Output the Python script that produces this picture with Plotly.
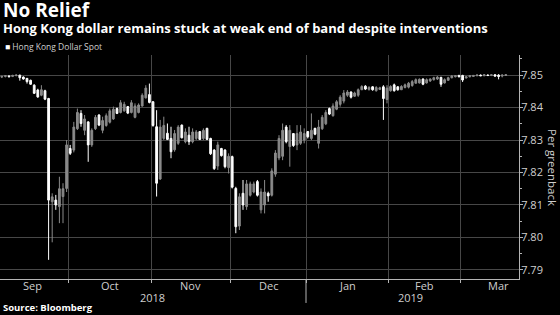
import pandas as pd
import plotly.graph_objects as go

# ---- data (USD/HKD daily candles) ----
start_date = "2018-09-04"
n_days = 141
dates = (pd.bdate_range(start_date, periods=n_days) + pd.Timedelta(hours=12)).tolist()

open_ = [7.8494, 7.8496, 7.8497, 7.8496, 7.8499, 7.8500, 7.8494, 7.8490, 7.8484, 7.8469,
         7.8454, 7.8438, 7.8452, 7.8428, 7.8110, 7.8115, 7.8095, 7.8126, 7.8151, 7.8274,
         7.8269, 7.8335, 7.8382, 7.8330, 7.8356, 7.8285, 7.8335, 7.8377, 7.8330, 7.8345,
         7.8355, 7.8365, 7.8397, 7.8385, 7.8390, 7.8403, 7.8385, 7.8370, 7.8385, 7.8405,
         7.8430, 7.8440, 7.8418, 7.8341, 7.8180, 7.8305, 7.8321, 7.8305, 7.8270, 7.8290,
         7.8346, 7.8295, 7.8315, 7.8295, 7.8305, 7.8326, 7.8305, 7.8336, 7.8305, 7.8269,
         7.8220, 7.8274, 7.8269, 7.8215, 7.8249, 7.8151, 7.8035, 7.8136, 7.8095, 7.8130,
         7.8140, 7.8172, 7.8085, 7.8100, 7.8136, 7.8130, 7.8195, 7.8245, 7.8250, 7.8340,
         7.8280, 7.8320, 7.8285, 7.8290, 7.8300, 7.8326, 7.8305, 7.8336, 7.8290, 7.8335,
         7.8350, 7.8397, 7.8375, 7.8395, 7.8410, 7.8420, 7.8438, 7.8448, 7.8435, 7.8438,
         7.8455, 7.8466, 7.8456, 7.8464, 7.8452, 7.8456, 7.8464, 7.8425, 7.8452, 7.8470,
         7.8464, 7.8455, 7.8462, 7.8463, 7.8468, 7.8475, 7.8476, 7.8488, 7.8476, 7.8482,
         7.8486, 7.8488, 7.8493, 7.8476, 7.8484, 7.8492, 7.8495, 7.8499, 7.8499, 7.8491,
         7.8495, 7.8496, 7.8498, 7.8500, 7.8498, 7.8500, 7.8499, 7.8501, 7.8500, 7.8497,
         7.8499]
high_ = [7.8498, 7.8500, 7.8500, 7.8501, 7.8502, 7.8501, 7.8496, 7.8491, 7.8486, 7.8472,
         7.8458, 7.8469, 7.8455, 7.8430, 7.8136, 7.8131, 7.8187, 7.8167, 7.8300, 7.8285,
         7.8356, 7.8397, 7.8392, 7.8377, 7.8358, 7.8336, 7.8377, 7.8380, 7.8372, 7.8382,
         7.8397, 7.8403, 7.8400, 7.8423, 7.8418, 7.8405, 7.8423, 7.8413, 7.8413, 7.8444,
         7.8469, 7.8474, 7.8420, 7.8392, 7.8362, 7.8372, 7.8351, 7.8341, 7.8331, 7.8346,
         7.8348, 7.8336, 7.8341, 7.8336, 7.8331, 7.8328, 7.8336, 7.8338, 7.8307, 7.8272,
         7.8295, 7.8276, 7.8272, 7.8259, 7.8252, 7.8156, 7.8136, 7.8177, 7.8177, 7.8172,
         7.8172, 7.8177, 7.8151, 7.8177, 7.8141, 7.8213, 7.8269, 7.8315, 7.8351, 7.8346,
         7.8346, 7.8321, 7.8346, 7.8346, 7.8336, 7.8328, 7.8382, 7.8338, 7.8362, 7.8377,
         7.8392, 7.8400, 7.8413, 7.8423, 7.8438, 7.8454, 7.8454, 7.8450, 7.8449, 7.8459,
         7.8469, 7.8469, 7.8466, 7.8466, 7.8466, 7.8464, 7.8469, 7.8469, 7.8469, 7.8474,
         7.8466, 7.8469, 7.8474, 7.8479, 7.8485, 7.8490, 7.8490, 7.8490, 7.8490, 7.8490,
         7.8495, 7.8497, 7.8495, 7.8490, 7.8495, 7.8500, 7.8500, 7.8501, 7.8501, 7.8497,
         7.8500, 7.8500, 7.8502, 7.8502, 7.8502, 7.8502, 7.8502, 7.8503, 7.8503, 7.8502,
         7.8502]
low_ = [7.8491, 7.8493, 7.8494, 7.8494, 7.8496, 7.8483, 7.8486, 7.8474, 7.8470, 7.8442,
        7.8430, 7.8435, 7.8423, 7.7931, 7.7985, 7.8085, 7.8044, 7.8044, 7.8140, 7.8254,
        7.8262, 7.8331, 7.8341, 7.8315, 7.8233, 7.8279, 7.8331, 7.8343, 7.8321, 7.8341,
        7.8351, 7.8362, 7.8380, 7.8382, 7.8387, 7.8380, 7.8382, 7.8367, 7.8382, 7.8403,
        7.8428, 7.8413, 7.8341, 7.8126, 7.8177, 7.8300, 7.8300, 7.8244, 7.8264, 7.8285,
        7.8305, 7.8290, 7.8285, 7.8290, 7.8300, 7.8300, 7.8300, 7.8300, 7.8254, 7.8208,
        7.8208, 7.8249, 7.8213, 7.8197, 7.8151, 7.8013, 7.8023, 7.8085, 7.8085, 7.8126,
        7.8136, 7.8126, 7.8074, 7.8074, 7.8110, 7.8126, 7.8187, 7.8238, 7.8238, 7.8290,
        7.8218, 7.8279, 7.8269, 7.8285, 7.8290, 7.8305, 7.8300, 7.8315, 7.8274, 7.8331,
        7.8346, 7.8377, 7.8372, 7.8392, 7.8403, 7.8413, 7.8433, 7.8428, 7.8433, 7.8433,
        7.8454, 7.8454, 7.8452, 7.8452, 7.8449, 7.8454, 7.8362, 7.8413, 7.8449, 7.8449,
        7.8452, 7.8454, 7.8459, 7.8459, 7.8464, 7.8474, 7.8474, 7.8469, 7.8474, 7.8479,
        7.8483, 7.8485, 7.8464, 7.8474, 7.8483, 7.8490, 7.8493, 7.8493, 7.8479, 7.8490,
        7.8493, 7.8495, 7.8497, 7.8497, 7.8497, 7.8497, 7.8497, 7.8495, 7.8487, 7.8493,
        7.8498]
close_ = [7.8496, 7.8498, 7.8495, 7.8499, 7.8500, 7.8492, 7.8488, 7.8480, 7.8472, 7.8444,
          7.8433, 7.8455, 7.8426, 7.8115, 7.8125, 7.8100, 7.8150, 7.8150, 7.8285, 7.8259,
          7.8340, 7.8385, 7.8351, 7.8365, 7.8285, 7.8330, 7.8370, 7.8346, 7.8360, 7.8375,
          7.8390, 7.8395, 7.8382, 7.8415, 7.8410, 7.8383, 7.8415, 7.8405, 7.8408, 7.8438,
          7.8460, 7.8416, 7.8345, 7.8167, 7.8340, 7.8345, 7.8302, 7.8264, 7.8320, 7.8340,
          7.8307, 7.8325, 7.8295, 7.8325, 7.8325, 7.8302, 7.8330, 7.8302, 7.8258, 7.8212,
          7.8285, 7.8252, 7.8218, 7.8250, 7.8155, 7.8033, 7.8125, 7.8100, 7.8165, 7.8165,
          7.8165, 7.8130, 7.8140, 7.8140, 7.8128, 7.8205, 7.8260, 7.8305, 7.8330, 7.8295,
          7.8330, 7.8283, 7.8320, 7.8325, 7.8320, 7.8310, 7.8330, 7.8318, 7.8340, 7.8370,
          7.8385, 7.8380, 7.8405, 7.8418, 7.8432, 7.8445, 7.8448, 7.8432, 7.8445, 7.8455,
          7.8465, 7.8457, 7.8462, 7.8455, 7.8462, 7.8461, 7.8428, 7.8460, 7.8465, 7.8452,
          7.8455, 7.8465, 7.8470, 7.8475, 7.8480, 7.8486, 7.8487, 7.8472, 7.8486, 7.8488,
          7.8492, 7.8494, 7.8472, 7.8486, 7.8492, 7.8497, 7.8498, 7.8495, 7.8485, 7.8495,
          7.8498, 7.8499, 7.8500, 7.8498, 7.8501, 7.8499, 7.8501, 7.8497, 7.8496, 7.8500,
          7.8501]

months = ["2018-09", "2018-10", "2018-11", "2018-12", "2019-01", "2019-02", "2019-03"]
month_labels = ["Sep", "Oct", "Nov", "Dec", "Jan", "Feb", "Mar"]
y_ticks = [7.79, 7.80, 7.81, 7.82, 7.83, 7.84, 7.85]
year_labels = ["2018", "2019"]
year_label_dates = ["2018-11-01 06:00", "2019-02-11"]
year_boundary = "2019-01-01"

# month label positions (middle of each month's weekdays) and month boundaries
label_pos, boundaries = [], []
for m in months:
    p = pd.Period(m, "M")
    bd = pd.bdate_range(p.start_time, p.end_time)
    n = len(bd)
    label_pos.append(bd[n // 2] + pd.Timedelta(hours=12 * (n % 2)))
    boundaries.append(bd[0])
boundaries = boundaries[1:]

BG = "#000000"
GRID = "#474747"
AXIS = "#b4b4b4"
TXT = "#cfcfcf"
FONT = "Open Sans"

fig = go.Figure()
fig.add_trace(go.Candlestick(
    x=dates, open=open_, high=high_, low=low_, close=close_,
    increasing=dict(line=dict(color="#8a8a8a", width=1), fillcolor="#8a8a8a"),
    decreasing=dict(line=dict(color="#ffffff", width=1), fillcolor="#ffffff"),
    whiskerwidth=0, showlegend=False, name="Hong Kong Dollar Spot",
))

fig.update_layout(
    width=560, height=315,
    paper_bgcolor=BG, plot_bgcolor=BG,
    margin=dict(l=0, r=41, t=55, b=36),
    font=dict(family=FONT, color=TXT, size=11),
    showlegend=False,
)
fig.update_xaxes(
    type="date",
    range=["2018-09-04 00:00", "2019-03-25 04:00"],
    rangebreaks=[dict(bounds=["sat", "mon"])],
    rangeslider=dict(visible=False),
    tickmode="array", tickvals=boundaries, ticktext=[""] * len(boundaries),
    ticks="outside", ticklen=3, tickcolor=AXIS,
    showgrid=True, gridcolor=GRID, gridwidth=1,
    showline=True, linecolor=AXIS, linewidth=1,
    zeroline=False,
)
fig.update_yaxes(
    side="right",
    range=[7.7872, 7.8562],
    tickvals=y_ticks, tickformat=".2f",
    showgrid=True, gridcolor=GRID, gridwidth=1,
    ticks="outside", ticklen=3, tickcolor=AXIS,
    ticklabelstandoff=-4,
    minor=dict(dtick=0.005, tick0=7.785, ticks="outside", ticklen=2, tickcolor=AXIS, showgrid=False),
    showline=True, linecolor=AXIS, linewidth=1,
    tickfont=dict(size=11, color=TXT),
    zeroline=False,
)

ann = [
    dict(text="<b>No Relief</b>", x=0, xshift=1, y=1.201, xref="paper", yref="paper",
         xanchor="left", yanchor="middle", showarrow=False,
         font=dict(size=19, color="#ffffff", family=FONT)),
    dict(text="<b>Hong Kong dollar remains stuck at weak end of band despite interventions</b>",
         x=0, xshift=1, y=1.12, xref="paper", yref="paper",
         xanchor="left", yanchor="middle", showarrow=False,
         font=dict(size=13, color="#ffffff", family=FONT)),
    dict(text="<span style='color:#ffffff'>■</span> Hong Kong Dollar Spot",
         x=0, xshift=3, y=1.036, xref="paper", yref="paper",
         xanchor="left", yanchor="middle", showarrow=False,
         font=dict(size=8.5, color=TXT, family=FONT)),
    dict(text="<b>Source: Bloomberg</b>", x=0, xshift=1, y=-0.128, xref="paper", yref="paper",
         xanchor="left", yanchor="middle", showarrow=False,
         font=dict(size=9.5, color="#ffffff", family=FONT)),
    dict(text="Per greenback", x=1, xshift=34, y=0.5, xref="paper", yref="paper",
         xanchor="center", yanchor="middle", textangle=90, showarrow=False,
         font=dict(size=11.5, color=TXT, family=FONT)),
]
for lab, d in zip(month_labels, label_pos):
    ann.append(dict(text=lab, x=d, xref="x", y=-0.031, yref="paper",
                    xanchor="center", yanchor="middle", showarrow=False,
                    font=dict(size=11, color=TXT, family=FONT)))
for lab, d in zip(year_labels, year_label_dates):
    ann.append(dict(text=lab, x=d, xref="x", y=-0.083, yref="paper",
                    xanchor="center", yanchor="middle", showarrow=False,
                    font=dict(size=11, color=TXT, family=FONT)))
fig.update_layout(annotations=ann)

fig.add_shape(type="line", xref="x", yref="paper", x0=year_boundary, x1=year_boundary,
              y0=0, y1=-0.107, line=dict(color=AXIS, width=1))

fig.write_html("out.html")
